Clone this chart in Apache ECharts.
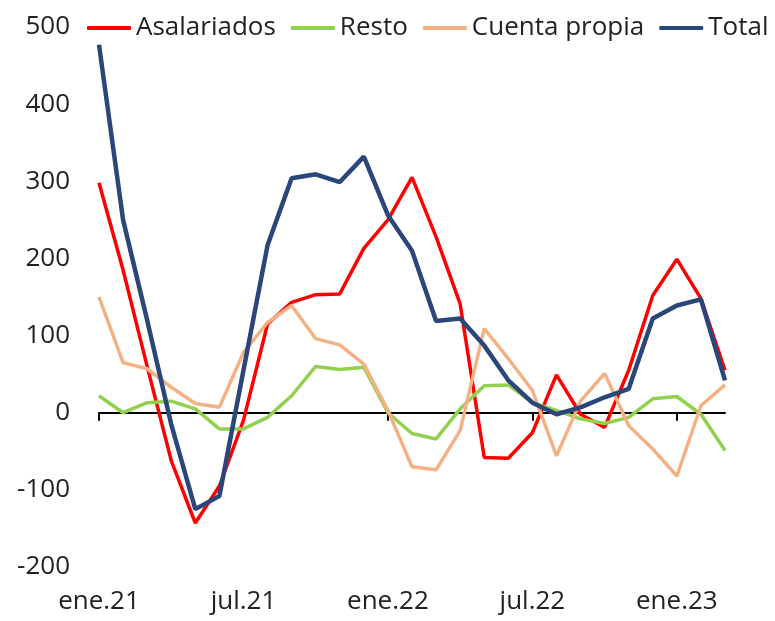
<!DOCTYPE html>
<html>
<head>
<meta charset="utf-8">
<script src="https://cdn.jsdelivr.net/npm/echarts@6/dist/echarts.min.js"></script>
<style>
  html, body { margin: 0; padding: 0; background: #fff; }
  #main { width: 775px; height: 621px; }
</style>
</head>
<body>
<div id="main"></div>
<script>
// meses ene.21 .. mar.23
const months = ['ene.21','feb.21','mar.21','abr.21','may.21','jun.21','jul.21','ago.21','sep.21','oct.21','nov.21','dic.21',
                'ene.22','feb.22','mar.22','abr.22','may.22','jun.22','jul.22','ago.22','sep.22','oct.22','nov.22','dic.22',
                'ene.23','feb.23','mar.23'];

const asalariados = [298, 185, 60, -62, -143, -95, -10, 115, 143, 153, 154, 213, 250, 305, 228, 141, -58, -59, -26, 49, -2, -19, 55, 152, 199, 148, 55];
const resto       = [22, 0, 13, 15, 5, -21, -21, -6, 22, 60, 56, 59, 0, -27, -34, 5, 35, 36, 13, 3, -8, -14, -6, 18, 21, -2, -49];
const cuentaPropia= [150, 65, 57, 33, 12, 7, 78, 117, 139, 96, 88, 63, 3, -70, -74, -23, 109, 70, 29, -56, 15, 51, -17, -47, -82, 9, 36];
const total       = [477, 250, 120, -15, -125, -108, 55, 217, 304, 309, 299, 332, 256, 210, 119, 122, 87, 42, 13, -2, 7, 20, 31, 122, 139, 147, 42];

const yTicks = { min: -200, max: 500, step: 100 };

const font = 'Open Sans';
const textColor = '#222';

let myChart = echarts.init(document.getElementById('main'));

function serie(name, data, color, width) {
    return {
        name: name,
        type: 'line',
        xAxisIndex: 0,
        data: data,
        symbol: 'none',
        lineStyle: { color: color, width: width },
        itemStyle: { color: color }
    };
}

let option = {
    animation: false,
    backgroundColor: '#fff',
    textStyle: { fontFamily: font },
    legend: {
        left: 87,
        top: 15,
        width: 688,
        padding: 0,
        itemWidth: 44,
        itemHeight: 4,
        itemGap: 15,
        icon: 'roundRect',
        textStyle: { fontFamily: font, fontSize: 26, color: textColor },
        data: ['Asalariados', 'Resto', 'Cuenta propia', 'Total']
    },
    grid: { left: 99, right: 50, top: 27, bottom: 54, containLabel: false },
    xAxis: [
        {
            type: 'category',
            data: months,
            boundaryGap: false,
            position: 'bottom',
            axisLine: { show: false, onZero: false },
            axisTick: { show: false },
            axisLabel: { interval: 5, margin: 22, fontFamily: font, fontSize: 26, color: textColor }
        },
        {
            // eje en cero con marcas semestrales
            type: 'category',
            data: months,
            boundaryGap: false,
            position: 'bottom',
            axisLine: { show: true, onZero: true, lineStyle: { color: '#000', width: 2 } },
            axisTick: { show: true, interval: 5, length: 8, lineStyle: { color: '#000', width: 2 } },
            axisLabel: { show: false }
        }
    ],
    yAxis: {
        type: 'value',
        min: yTicks.min,
        max: yTicks.max,
        interval: yTicks.step,
        axisLine: { show: false },
        axisTick: { show: false },
        splitLine: { show: false },
        axisLabel: { margin: 29, fontFamily: font, fontSize: 26, color: textColor }
    },
    series: [
        serie('Asalariados', asalariados, '#FF0000', 3.5),
        serie('Resto', resto, '#92D050', 3.5),
        serie('Cuenta propia', cuentaPropia, '#F4B183', 3.5),
        serie('Total', total, '#2B4678', 4.5)
    ]
};
myChart.setOption(option);
</script>
</body>
</html>
